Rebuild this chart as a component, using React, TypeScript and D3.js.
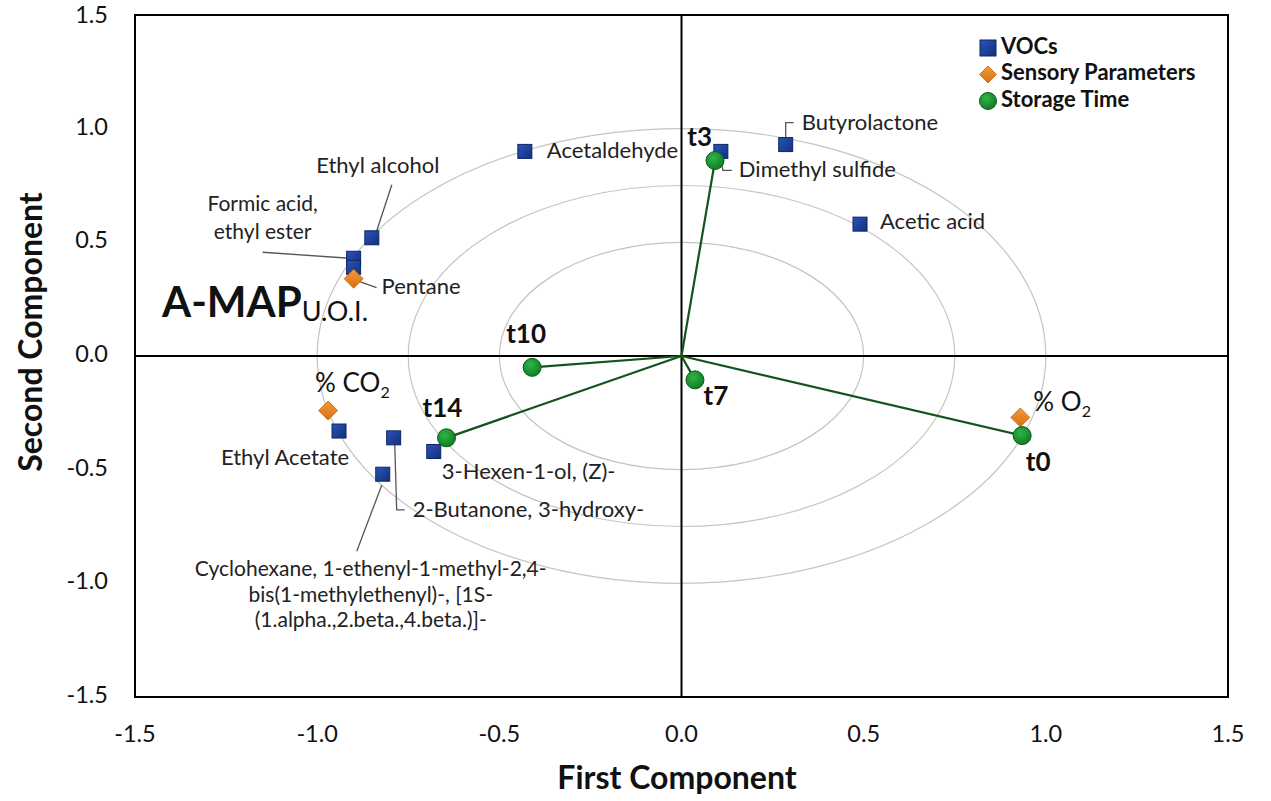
import React from "react";
import * as d3 from "d3";

// ---------- DATA ----------
const vocNames = [
  "Acetaldehyde", "Ethyl alcohol", "Formic acid, ethyl ester", "Pentane (VOC)",
  "Dimethyl sulfide", "Butyrolactone", "Acetic acid", "Ethyl Acetate",
  "2-Butanone, 3-hydroxy-", "Cyclohexane", "3-Hexen-1-ol, (Z)-",
];
const vocX = [-0.43, -0.85, -0.9, -0.9, 0.108, 0.286, 0.49, -0.94, -0.79, -0.82, -0.68];
const vocY = [0.9, 0.52, 0.43, 0.39, 0.9, 0.93, 0.58, -0.33, -0.36, -0.52, -0.42];

const sensNames = ["% CO2", "% O2", "Pentane"];
const sensX = [-0.97, 0.93, -0.9];
const sensY = [-0.24, -0.27, 0.34];

const timeNames = ["t0", "t3", "t7", "t10", "t14"];
const timeX = [0.935, 0.092, 0.037, -0.41, -0.645];
const timeY = [-0.35, 0.86, -0.105, -0.05, -0.36];

const ticks = [-1.5, -1.0, -0.5, 0.0, 0.5, 1.0, 1.5];
const circleRadii = [0.5, 0.75, 1.0];
const legendItems = ["VOCs", "Sensory Parameters", "Storage Time"];

// ---------- LAYOUT (label offsets in px, relative to marker) ----------
type Lbl = { lines: string[]; dx: number; dy: number; anchor: string; gap?: number; leader?: [number, number][] };
const vocLabels: Record<string, Lbl> = {
  "Acetaldehyde": { lines: ["Acetaldehyde"], dx: 22, dy: 1, anchor: "start" },
  "Ethyl alcohol": { lines: ["Ethyl alcohol"], dx: 6, dy: -71, anchor: "middle", leader: [[20, -53], [3, -1]] },
  "Formic acid, ethyl ester": { lines: ["Formic acid,", "ethyl ester"], dx: -91, dy: -52, gap: 28, anchor: "middle", leader: [[-91, -6], [-4, 0]] },
  "Dimethyl sulfide": { lines: ["Dimethyl sulfide"], dx: 18, dy: 20, anchor: "start", leader: [[0, 6], [2, 19], [11, 19]] },
  "Butyrolactone": { lines: ["Butyrolactone"], dx: 16, dy: -21, anchor: "start", leader: [[0, -6], [0, -22], [8, -22]] },
  "Acetic acid": { lines: ["Acetic acid"], dx: 20, dy: -1, anchor: "start" },
  "Ethyl Acetate": { lines: ["Ethyl Acetate"], dx: -54, dy: 28, anchor: "middle" },
  "2-Butanone, 3-hydroxy-": { lines: ["2-Butanone, 3-hydroxy-"], dx: 19, dy: 73, anchor: "start", leader: [[1, 4], [3, 72], [11, 72]] },
  "Cyclohexane": {
    lines: ["Cyclohexane, 1-ethenyl-1-methyl-2,4-", "bis(1-methylethenyl)-, [1S-", "(1.alpha.,2.beta.,4.beta.)]-"],
    dx: -12, dy: 97, gap: 25.5, anchor: "middle", leader: [[-1, 11], [-26, 77]],
  },
  "3-Hexen-1-ol, (Z)-": { lines: ["3-Hexen-1-ol, (Z)-"], dx: 8, dy: 22, anchor: "start" },
};
const timeLabels: Record<string, [number, number, string]> = {
  t0: [16, 29, "middle"],
  t3: [-3, -21, "end"],
  t7: [21, 18, "middle"],
  t10: [-6, -31, "middle"],
  t14: [-4, -28, "middle"],
};

const W = 1271, H = 801;
const FONT = "Lato, 'Open Sans', sans-serif";

export default function App() {
  const x = d3.scaleLinear().domain([-1.5, 1.5]).range([135, 1228]);
  const y = d3.scaleLinear().domain([-1.5, 1.5]).range([697, 15]);
  const fmt = (v: number) => d3.format(".1f")(v).replace("\u2212", "-");

  const blueEdge = "#0c2566";
  const greenEdge = "#0b5a19";
  const lineGreen = "#14531a";

  const diamond = (cx: number, cy: number, s: number) =>
    `M${cx},${cy - s} L${cx + s},${cy} L${cx},${cy + s} L${cx - s},${cy} Z`;

  return (
    <svg width={W} height={H} style={{ position: "absolute", left: 0, top: 0, background: "#fff" }}
      fontFamily={FONT}>
      <defs>
        <linearGradient id="gblue" x1="0" y1="0" x2="1" y2="1">
          <stop offset="0" stopColor="#2a55b8" />
          <stop offset="1" stopColor="#13307a" />
        </linearGradient>
        <radialGradient id="ggreen" cx="0.4" cy="0.35" r="0.7">
          <stop offset="0" stopColor="#2fb548" />
          <stop offset="1" stopColor="#0f7a22" />
        </radialGradient>
        <linearGradient id="gorange" x1="0" y1="0" x2="0" y2="1">
          <stop offset="0" stopColor="#f39a3c" />
          <stop offset="1" stopColor="#d86f12" />
        </linearGradient>
      </defs>
      <rect x={0} y={0} width={W} height={H} fill="#fff" />

      {/* concentric circles */}
      {circleRadii.map((r) => (
        <ellipse key={r} cx={x(0)} cy={y(0)} rx={x(r) - x(0)} ry={y(0) - y(r)}
          fill="none" stroke="#c4c4c4" strokeWidth={1.2} />
      ))}

      {/* axes through origin */}
      <line x1={x(0)} x2={x(0)} y1={y(1.5)} y2={y(-1.5)} stroke="#000" strokeWidth={2} />
      <line x1={x(-1.5)} x2={x(1.5)} y1={y(0)} y2={y(0)} stroke="#000" strokeWidth={2} />

      {/* plot border */}
      <rect x={x(-1.5)} y={y(1.5)} width={x(1.5) - x(-1.5)} height={y(-1.5) - y(1.5)}
        fill="none" stroke="#000" strokeWidth={2} />

      {/* tick labels */}
      {ticks.map((t) => (
        <text key={"y" + t} x={108} y={y(t) + (t === 1.5 ? 2 : 0)} textAnchor="end" dominantBaseline="middle"
          fontSize={23.5} fill="#111">{fmt(t)}</text>
      ))}
      {ticks.map((t) => (
        <text key={"x" + t} x={x(t)} y={736} textAnchor="middle" dominantBaseline="middle"
          fontSize={23.5} fill="#111">{fmt(t)}</text>
      ))}

      {/* axis titles */}
      <text x={677} y={781} textAnchor="middle" dominantBaseline="middle" fontSize={32}
        fontWeight="bold" fill="#111">First Component</text>
      <text transform={`translate(34,332) rotate(-90)`} textAnchor="middle" dominantBaseline="middle"
        fontSize={32} fontWeight="bold" fill="#111">Second Component</text>

      {/* time vectors */}
      {timeNames.map((n, i) => (
        <line key={"l" + n} x1={x(0)} y1={y(0)} x2={x(timeX[i])} y2={y(timeY[i])}
          stroke={lineGreen} strokeWidth={2.2} />
      ))}

      {/* leader lines */}
      {vocNames.map((n, i) => {
        const L = vocLabels[n];
        if (!L || !L.leader) return null;
        const px = x(vocX[i]), py = y(vocY[i]);
        const pts = L.leader.map(([a, b]) => `${px + a},${py + b}`).join(" ");
        return <polyline key={"ld" + n} points={pts} fill="none" stroke="#555" strokeWidth={1.3} />;
      })}
      {/* pentane leader */}
      <polyline points={`${x(sensX[2]) + 6},${y(sensY[2]) + 3} ${x(sensX[2]) + 23},${y(sensY[2]) + 9}`}
        fill="none" stroke="#555" strokeWidth={1.3} />

      {/* VOC markers */}
      {vocNames.map((n, i) => (
        <rect key={"v" + n} x={x(vocX[i]) - 7} y={y(vocY[i]) - 7} width={14} height={14}
          fill="url(#gblue)" stroke={blueEdge} strokeWidth={1} />
      ))}

      {/* sensory markers */}
      {sensNames.map((n, i) => (
        <path key={"s" + n} d={diamond(x(sensX[i]), y(sensY[i]), 9.5)} fill="url(#gorange)"
          stroke="#c8650f" strokeWidth={0.8} />
      ))}

      {/* time markers */}
      {timeNames.map((n, i) => (
        <circle key={"t" + n} cx={x(timeX[i])} cy={y(timeY[i])} r={9} fill="url(#ggreen)"
          stroke={greenEdge} strokeWidth={1} />
      ))}

      {/* VOC labels */}
      {vocNames.map((n, i) => {
        const L = vocLabels[n];
        if (!L) return null;
        const px = x(vocX[i]), py = y(vocY[i]);
        const fs = L.lines.length > 1 ? 21 : 22;
        return (
          <text key={"vl" + n} x={px + L.dx} y={py + L.dy} textAnchor={L.anchor}
            dominantBaseline="middle" fontSize={fs} fill="#222">
            {L.lines.map((s, k) => (
              <tspan key={k} x={px + L.dx} dy={k === 0 ? 0 : (L.gap ?? 24)}>{s}</tspan>
            ))}
          </text>
        );
      })}

      {/* sensory labels */}
      <text x={x(sensX[2]) + 28} y={y(sensY[2]) + 10} dominantBaseline="middle" fontSize={22} fill="#222">Pentane</text>
      <text x={x(sensX[0]) - 13} y={y(sensY[0]) - 19} fontSize={26} fill="#111">
        % CO<tspan fontSize={16} dy={6}>2</tspan>
      </text>
      <text x={x(sensX[1]) + 13} y={y(sensY[1]) - 6} fontSize={26} fill="#111">
        % O<tspan fontSize={16} dy={6}>2</tspan>
      </text>

      {/* time labels */}
      {timeNames.map((n, i) => {
        const [dx, dy, a] = timeLabels[n];
        return (
          <text key={"tl" + n} x={x(timeX[i]) + dx} y={y(timeY[i]) + dy} textAnchor={a}
            dominantBaseline="middle" fontSize={26} fontWeight="bold" fill="#111">{n}</text>
        );
      })}

      {/* A-MAP title */}
      <text x={162} y={317} fontSize={42} fontWeight="bold" fill="#111">
        A-MAP<tspan fontSize={27} fontWeight="normal" dy={4}>U.O.I.</tspan>
      </text>

      {/* legend */}
      {legendItems.map((s, i) => {
        const ly = 48 + i * 26.5;
        const lx = 989;
        return (
          <g key={s}>
            {i === 0 && <rect x={lx - 9} y={ly - 8} width={16} height={16} fill="url(#gblue)" stroke={blueEdge} />}
            {i === 1 && <path d={diamond(lx - 1, ly, 8.5)} fill="url(#gorange)" stroke="#c8650f" strokeWidth={0.8} />}
            {i === 2 && <circle cx={lx - 1} cy={ly} r={8.5} fill="url(#ggreen)" stroke={greenEdge} />}
            <text x={lx + 12} y={ly} dominantBaseline="middle" fontSize={22} fontWeight="bold" fill="#111">{s}</text>
          </g>
        );
      })}
    </svg>
  );
}
